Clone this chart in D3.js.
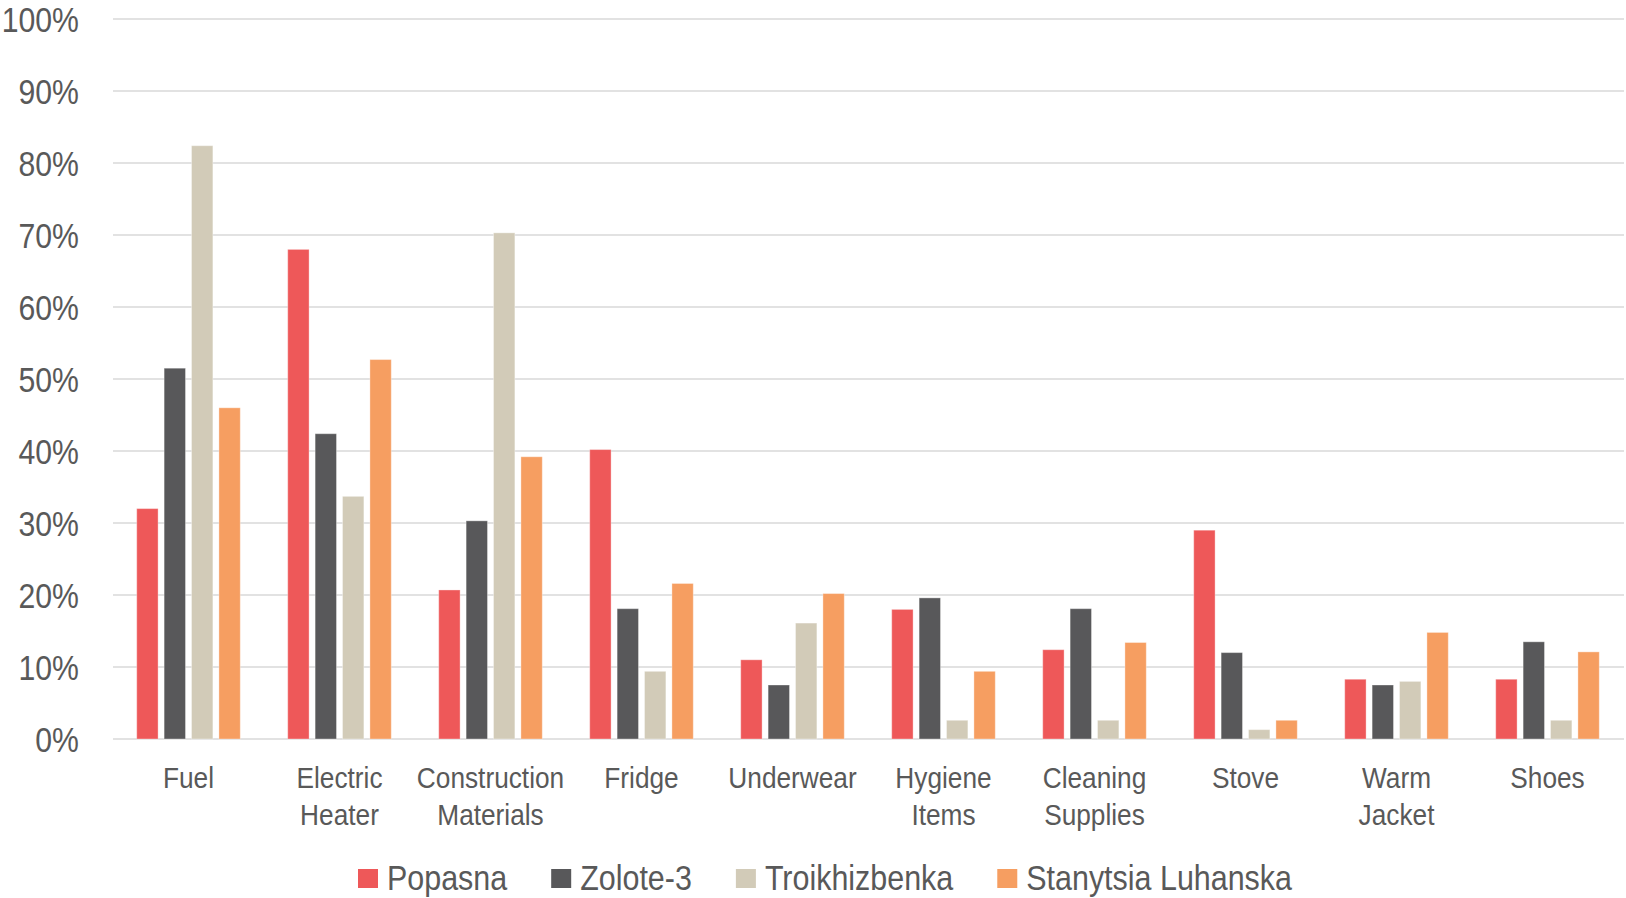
<!DOCTYPE html>
<html>
<head>
<meta charset="utf-8">
<script src="https://cdn.jsdelivr.net/npm/d3@7/dist/d3.min.js"></script>
<style>
  html, body { margin: 0; padding: 0; background: #fff; }
  svg { display: block; }
  text { font-family: "Liberation Sans", Arial, sans-serif; fill: #595959; }
</style>
</head>
<body>
<svg id="chart" width="1626" height="898"></svg>
<script>
const categories = [
  ["Fuel"], ["Electric", "Heater"], ["Construction", "Materials"], ["Fridge"],
  ["Underwear"], ["Hygiene", "Items"], ["Cleaning", "Supplies"], ["Stove"],
  ["Warm", "Jacket"], ["Shoes"]
];
const seriesNames = ["Popasna", "Zolote-3", "Troikhizbenka", "Stanytsia Luhanska"];
const seriesColors = ["#EE5859", "#58585A", "#D2CBB8", "#F69E61"];
const popasna       = [32, 68, 20.7, 40.2, 11.0, 18.0, 12.4, 29.0, 8.3, 8.3];
const zolote3       = [51.5, 42.4, 30.3, 18.1, 7.5, 19.6, 18.1, 12.0, 7.5, 13.5];
const troikhizbenka = [82.4, 33.7, 70.3, 9.4, 16.1, 2.6, 2.6, 1.3, 8.0, 2.6];
const stanytsia     = [46.0, 52.7, 39.2, 21.6, 20.2, 9.4, 13.4, 2.6, 14.8, 12.1];
const yTicks = [0, 10, 20, 30, 40, 50, 60, 70, 80, 90, 100];

const seriesValues = [popasna, zolote3, troikhizbenka, stanytsia];
const svg = d3.select("#chart");

const x0 = d3.scaleBand().domain(d3.range(categories.length)).range([113, 1623]).padding(0);
const x1 = d3.scaleBand().domain(d3.range(seriesNames.length)).range([0, x0.bandwidth()])
  .paddingInner(0.22).paddingOuter(0.866);
const y = d3.scaleLinear().domain([0, 100]).range([739, 19]);

// gridlines
svg.append("g").selectAll("line").data(yTicks).join("line")
  .attr("x1", 113).attr("x2", 1624)
  .attr("y1", d => y(d)).attr("y2", d => y(d))
  .attr("stroke", "#D9D9D9").attr("stroke-width", 1.4);

// y labels
svg.append("g").selectAll("text").data(yTicks).join("text")
  .attr("transform", d => `translate(79,${y(d) + 12.5}) scale(0.84,1)`)
  .attr("text-anchor", "end")
  .style("font-size", "36px")
  .text(d => d + "%");

// bars
const groups = svg.append("g").selectAll("g").data(categories).join("g")
  .attr("transform", (d, i) => `translate(${x0(i)},0)`);
groups.selectAll("rect").data((d, i) => seriesValues.map((s, k) => ({k, v: s[i]}))).join("rect")
  .attr("x", d => x1(d.k))
  .attr("width", x1.bandwidth())
  .attr("y", d => y(d.v))
  .attr("height", d => y(0) - y(d.v))
  .attr("fill", d => seriesColors[d.k])
  .attr("stroke", "#ffffff").attr("stroke-opacity", 0.35).attr("stroke-width", 1);

// category labels
const catG = svg.append("g").selectAll("text").data(categories).join("text")
  .attr("transform", (d, i) => `translate(${x0(i) + x0.bandwidth() / 2},788) scale(0.875,1)`)
  .attr("text-anchor", "middle")
  .style("font-size", "30px");
catG.selectAll("tspan").data(d => d).join("tspan")
  .attr("x", 0)
  .attr("dy", (d, j) => j === 0 ? 0 : 36.7)
  .text(d => d);

// legend
const LEG = 0.87;
const legend = svg.append("g");
let lx = 358;
seriesNames.forEach((name, k) => {
  legend.append("rect").attr("x", lx).attr("y", 869).attr("width", 20).attr("height", 19)
    .attr("fill", seriesColors[k]);
  const t = legend.append("text")
    .attr("transform", `translate(${lx + 29},890) scale(${LEG},1)`)
    .style("font-size", "35px").text(name);
  const w = t.node().getComputedTextLength() * LEG;
  lx = lx + 29 + w + 44;
});
</script>
</body>
</html>
